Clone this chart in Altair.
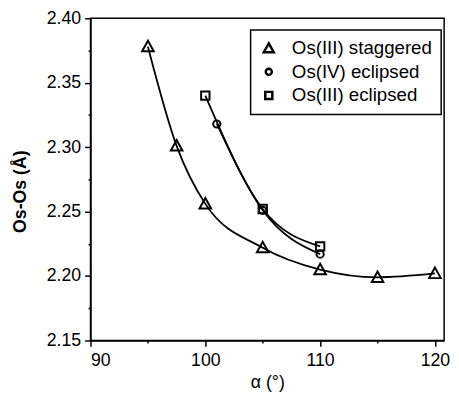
import altair as alt
import pandas as pd

series_names = ["Os(III) staggered", "Os(IV) eclipsed", "Os(III) eclipsed"]

stag_alpha = [95, 97.5, 100, 105, 110, 115, 120]
stag_osos = [2.378, 2.301, 2.256, 2.222, 2.205, 2.199, 2.202]

iv_ecl_alpha = [101, 105, 110]
iv_ecl_osos = [2.318, 2.251, 2.217]

iii_ecl_alpha = [100, 105, 110]
iii_ecl_osos = [2.340, 2.252, 2.223]

rows = []
for name, xs, ys in [
    (series_names[0], stag_alpha, stag_osos),
    (series_names[1], iv_ecl_alpha, iv_ecl_osos),
    (series_names[2], iii_ecl_alpha, iii_ecl_osos),
]:
    for a, d in zip(xs, ys):
        rows.append({"series": name, "alpha": a, "osos": d})
df = pd.DataFrame(rows)

FONT = "Liberation Sans"

# marker outlines (unit symbol space), sized to match the reference
TRI = "M0,-1L1,0.8L-1,0.8Z"
CIRC = "M0.62,0A0.62,0.62,0,1,1,-0.62,0A0.62,0.62,0,1,1,0.62,0Z"
SQ = "M-0.72,-0.72L0.72,-0.72L0.72,0.72L-0.72,0.72Z"

x_enc = alt.X(
    "alpha:Q",
    scale=alt.Scale(domain=[90, 120.8], nice=False, zero=False),
    axis=alt.Axis(
        title="α (°)",
        values=[90, 95, 100, 105, 110, 115, 120],
        labelExpr="datum.value % 10 == 0 ? datum.label : ''",
        tickSize={"condition": {"test": "datum.value % 10 != 0", "value": 2.5}, "value": 6},
        grid=False,
        titleFontWeight="normal",
        titleFontSize=18,
        labelFontSize=18,
        labelPadding=5,
        titlePadding=5,
    ),
)
y_enc = alt.Y(
    "osos:Q",
    scale=alt.Scale(domain=[2.15, 2.40], nice=False, zero=False),
    axis=alt.Axis(
        title="Os-Os  (Å)",
        values=[2.15, 2.175, 2.20, 2.225, 2.25, 2.275, 2.30, 2.325, 2.35, 2.375, 2.40],
        labelExpr="round(datum.value*1000) % 50 == 0 ? format(datum.value, '.2f') : ''",
        tickSize={"condition": {"test": "round(datum.value*1000) % 50 != 0", "value": 2.5}, "value": 6},
        grid=False,
        titleFontWeight="bold",
        titleFontSize=18,
        labelFontSize=18,
        labelPadding=4,
        titlePadding=17,
        titleY=176,
    ),
)

lines = alt.Chart(df).mark_line(
    interpolate="monotone", strokeWidth=1.8, color="black"
).encode(x=x_enc, y=y_enc, detail="series:N")

points = alt.Chart(df).mark_point(
    filled=False, strokeWidth=2, opacity=1, color="black", size=140
).encode(
    x=x_enc,
    y=y_enc,
    shape=alt.Shape(
        "series:N",
        scale=alt.Scale(domain=series_names, range=[TRI, CIRC, SQ]),
        title=None,
    ),
)

chart = (
    alt.layer(lines, points)
    .properties(
        width=360,
        height=328,
        autosize="none",
        padding={"left": 84, "top": 7, "right": 7, "bottom": 50},
    )
    .configure(font=FONT)
    .configure_view(stroke="black", strokeWidth=1.5)
    .configure_axis(
        domainColor="black",
        domainWidth=1.5,
        tickColor="black",
        tickWidth=1.5,
        labelColor="black",
        titleColor="black",
        labelFont=FONT,
        titleFont=FONT,
    )
    .configure_legend(
        orient="none",
        legendX=163,
        legendY=12,
        strokeColor="black",
        strokeWidth=1.5,
        padding=9,
        labelFontSize=19,
        labelFont=FONT,
        labelColor="black",
        rowPadding=4,
        labelOffset=14,
        symbolSize=100,
        symbolStrokeColor="black",
        symbolStrokeWidth=2.5,
    )
)

chart.save("out.html", embed_options={"renderer": "svg", "actions": False})
